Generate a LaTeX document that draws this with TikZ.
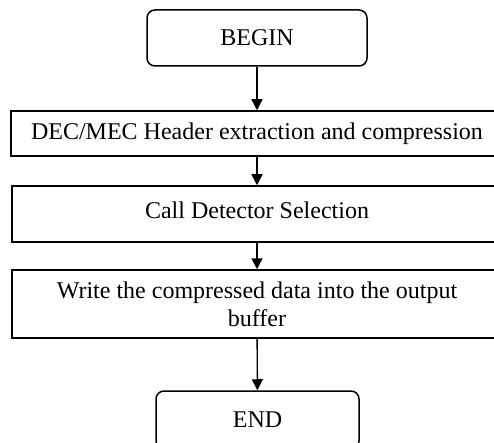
\documentclass[tikz,border=0pt]{standalone}
\usepackage{fontspec}
\setmainfont{Liberation Serif}
\usetikzlibrary{arrows.meta}
\begin{document}
\begin{tikzpicture}[x=1pt,y=1pt,
  every node/.style={font=\fontsize{24}{28}\selectfont, inner sep=0pt, line width=1.5pt, align=center},
  term/.style={draw, rounded corners=8pt},
  proc/.style={draw},
  conn/.style={line width=1.4pt, -{Triangle[length=11pt,width=11pt]}}]
\useasboundingbox (0,0) rectangle (494,-443);
\node[term, minimum width=220, minimum height=56] (begin) at (257,-38) {BEGIN};
\node[proc, minimum width=492, minimum height=45] (hdr) at (257,-133.5) {DEC/MEC Header extraction and compression};
\node[proc, minimum width=490, minimum height=56] (call) at (257,-214) {\raisebox{8pt}{Call Detector Selection}};
\node[proc, minimum width=490, minimum height=68] (write) at (257,-304) {Write the compressed data into the output\\buffer};
\node[term, minimum width=203, minimum height=58] (end) at (257.5,-420) {END};
\draw[conn] (begin) -- (hdr);
\draw[conn] (hdr) -- (call);
\draw[conn] (call) -- (write);
\draw[conn] (write) -- (end);
\end{tikzpicture}
\end{document}
